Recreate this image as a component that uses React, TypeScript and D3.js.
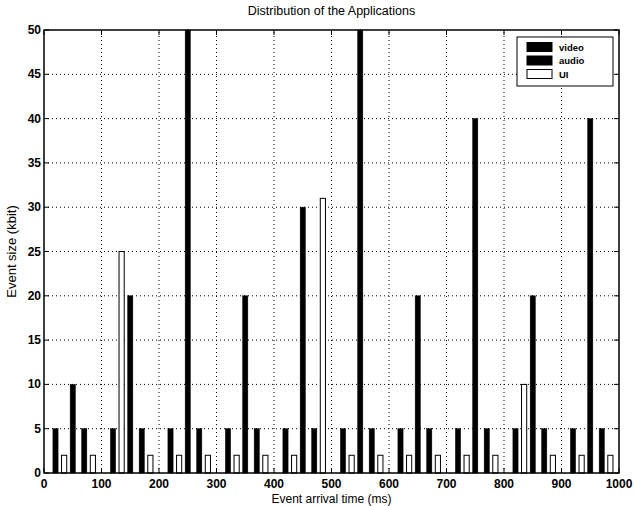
import React from "react";
import { scaleLinear } from "d3";

const W = 634;
const H = 506;

// video events (kbit)
const videoTimes = [50, 150, 250, 350, 450, 550, 650, 750, 850, 950];
const videoSizes = [10, 20, 50, 20, 30, 50, 20, 40, 20, 40];

// audio events (kbit)
const audioTimes = [
  20, 70, 120, 170, 220, 270, 320, 370, 420, 470, 520, 570, 620, 670, 720, 770,
  820, 870, 920, 970,
];
const audioSizes = [5, 5, 5, 5, 5, 5, 5, 5, 5, 5, 5, 5, 5, 5, 5, 5, 5, 5, 5, 5];

// UI events (kbit)
const uiTimes = [
  35, 85, 135, 185, 235, 285, 335, 385, 435, 485, 535, 585, 635, 685, 735, 785,
  835, 885, 935, 985,
];
const uiSizes = [2, 2, 25, 2, 2, 2, 2, 2, 2, 31, 2, 2, 2, 2, 2, 2, 10, 2, 2, 2];

const xTicks = [0, 100, 200, 300, 400, 500, 600, 700, 800, 900, 1000];
const yTicks = [0, 5, 10, 15, 20, 25, 30, 35, 40, 45, 50];

const legendItems = [
  { label: "video", fill: "#000" },
  { label: "audio", fill: "#000" },
  { label: "UI", fill: "#fff" },
];

const margin = { left: 44, right: 15, top: 30, bottom: 33 };
const font = "'Liberation Sans', Arial, Helvetica, sans-serif";

const App = () => {
  const x = scaleLinear()
    .domain([0, 1000])
    .range([margin.left, W - margin.right]);
  const y = scaleLinear()
    .domain([0, 50])
    .range([H - margin.bottom, margin.top]);

  const [x0, x1] = x.range();
  const [y0, y1] = y.range();
  const barW = x(9) - x(0);

  const bar = (t: number, v: number, fill: string, key: string) => (
    <rect
      key={key}
      x={x(t) - barW / 2}
      y={y(v)}
      width={barW}
      height={y(0) - y(v)}
      fill={fill}
      stroke="#000"
      strokeWidth={fill === "#fff" ? 1 : 0.5}
    />
  );

  return (
    <svg
      width={W}
      height={H}
      style={{ position: "absolute", left: 0, top: 0, background: "#fff" }}
      fontFamily={font}
    >
      <rect width={W} height={H} fill="#fff" />
      {/* grid */}
      {xTicks.slice(1, -1).map((t) => (
        <line
          key={"gx" + t}
          x1={x(t)}
          x2={x(t)}
          y1={y0}
          y2={y1}
          stroke="#000"
          strokeWidth={1}
          strokeDasharray="1,3"
        />
      ))}
      {yTicks.slice(1, -1).map((t) => (
        <line
          key={"gy" + t}
          x1={x0}
          x2={x1}
          y1={y(t)}
          y2={y(t)}
          stroke="#000"
          strokeWidth={1}
          strokeDasharray="1,3"
        />
      ))}

      {/* bars */}
      {audioTimes.map((t, i) => bar(t, audioSizes[i], "#000", "a" + i))}
      {videoTimes.map((t, i) => bar(t, videoSizes[i], "#000", "v" + i))}
      {uiTimes.map((t, i) => bar(t, uiSizes[i], "#fff", "u" + i))}

      {/* frame */}
      <rect
        x={x0}
        y={y1}
        width={x1 - x0}
        height={y0 - y1}
        fill="none"
        stroke="#000"
        strokeWidth={1.5}
      />

      {/* ticks */}
      {xTicks.map((t) => (
        <g key={"tx" + t}>
          <line x1={x(t)} x2={x(t)} y1={y0} y2={y0 - 5} stroke="#000" />
          <line x1={x(t)} x2={x(t)} y1={y1} y2={y1 + 5} stroke="#000" />
          <text
            x={x(t)}
            y={y0 + 15}
            textAnchor="middle"
            fontSize={12}
            fontWeight="bold"
          >
            {t}
          </text>
        </g>
      ))}
      {yTicks.map((t) => (
        <g key={"ty" + t}>
          <line x1={x0} x2={x0 + 5} y1={y(t)} y2={y(t)} stroke="#000" />
          <line x1={x1} x2={x1 - 5} y1={y(t)} y2={y(t)} stroke="#000" />
          <text
            x={x0 - 3}
            y={y(t) + 4}
            textAnchor="end"
            fontSize={12}
            fontWeight="bold"
          >
            {t}
          </text>
        </g>
      ))}

      {/* legend */}
      <g transform="translate(517, 37)">
        <rect width={96} height={49} fill="#fff" stroke="#000" strokeWidth={1} />
        {legendItems.map((d, i) => (
          <g key={d.label} transform={`translate(0, ${10 + i * 13.5})`}>
            <rect
              x={10}
              y={-4.5}
              width={25}
              height={9}
              fill={d.fill}
              stroke="#000"
            />
            <text x={42} y={3.5} fontSize={9.5} fontWeight="bold">
              {d.label}
            </text>
          </g>
        ))}
      </g>

      {/* labels */}
      <text x={(x0 + x1) / 2} y={15} textAnchor="middle" fontSize={12.5}>
        Distribution of the Applications
      </text>
      <text x={(x0 + x1) / 2} y={H - 3} textAnchor="middle" fontSize={12}>
        Event arrival time (ms)
      </text>
      <text
        transform={`translate(16, ${(y0 + y1) / 2}) rotate(-90)`}
        textAnchor="middle"
        fontSize={13}
      >
        Event size (kbit)
      </text>
    </svg>
  );
};

export default App;
